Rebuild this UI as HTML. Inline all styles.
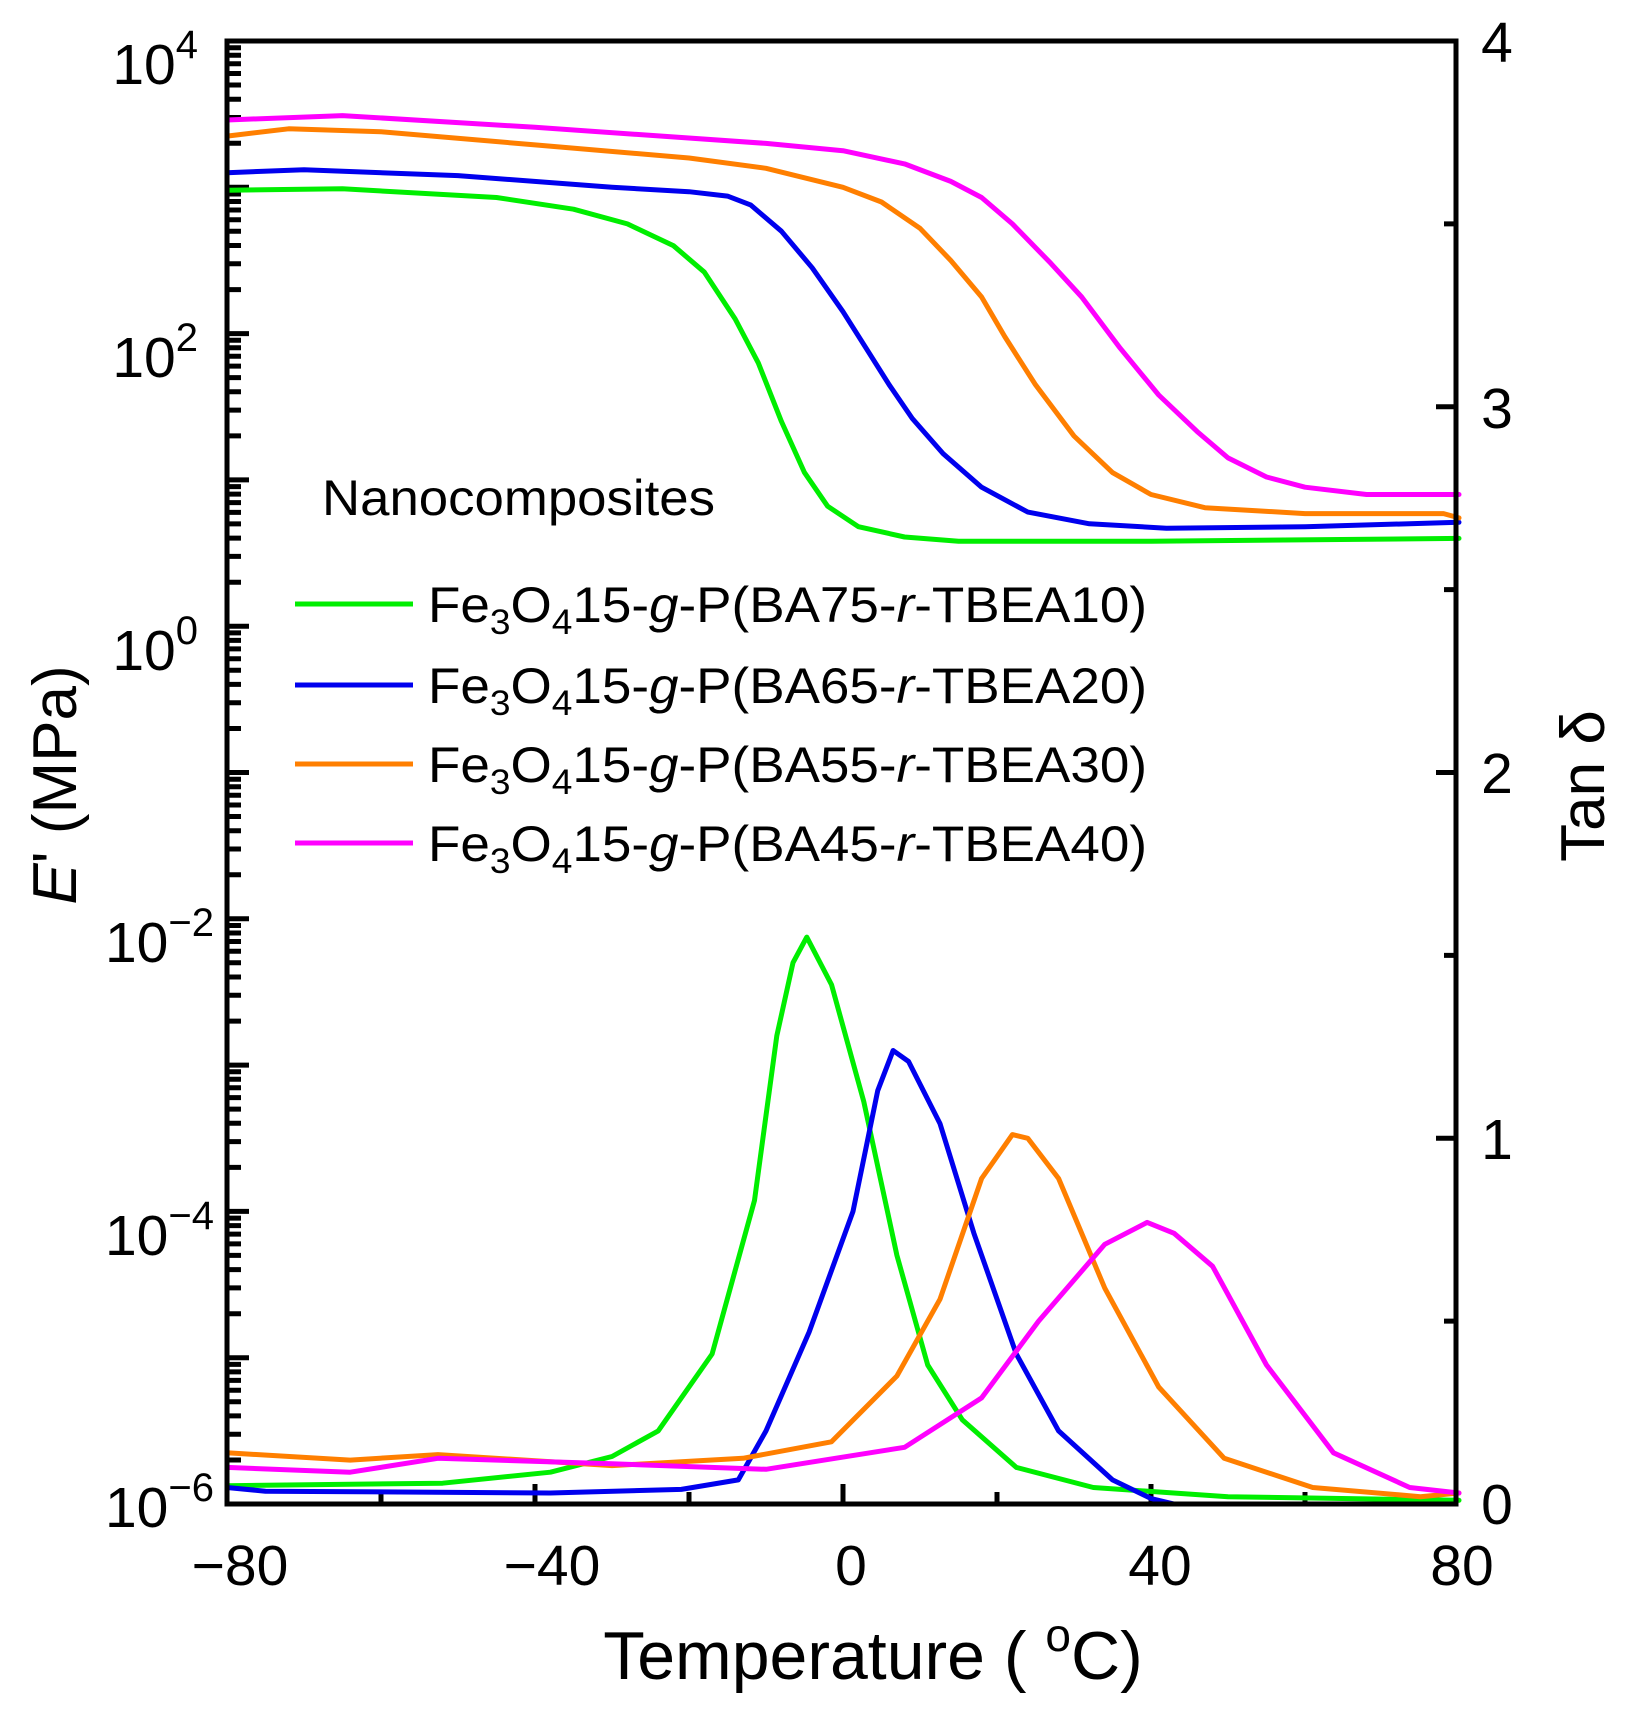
<!DOCTYPE html>
<html><head><meta charset="utf-8"><style>
body{margin:0;background:#fff}
svg{display:block}
text{font-family:"Liberation Sans",sans-serif;fill:#000}
</style></head><body>
<svg width="1626" height="1712" viewBox="0 0 1626 1712" xmlns="http://www.w3.org/2000/svg">
<defs>
<path id="dec" d="M227 0h22M227 -44h14M227 -69.8h14M227 -88.1h14M227 -102.3h14M227 -113.8h14M227 -123.6h14M227 -132.1h14M227 -139.6h14"/>
</defs>
<g stroke="#000" stroke-width="5" fill="none">
<use href="#dec" transform="translate(0,1504)"/>
<use href="#dec" transform="translate(0,1357.7)"/>
<use href="#dec" transform="translate(0,1211.4)"/>
<use href="#dec" transform="translate(0,1065.1)"/>
<use href="#dec" transform="translate(0,918.8)"/>
<use href="#dec" transform="translate(0,772.5)"/>
<use href="#dec" transform="translate(0,626.2)"/>
<use href="#dec" transform="translate(0,479.9)"/>
<use href="#dec" transform="translate(0,333.6)"/>
<use href="#dec" transform="translate(0,187.3)"/>
<path d="M227 41h22"/>
<path d="M1456 41h-20M1456 223.9h-12M1456 406.8h-20M1456 589.6h-12M1456 772.5h-20M1456 955.4h-12M1456 1138.3h-20M1456 1321.1h-12"/>
<path d="M381 1504v-12M535 1504v-20M689 1504v-12M843 1504v-20M997 1504v-12M1151 1504v-20M1305 1504v-12"/>
</g>
<g fill="none" stroke-width="5" stroke-linejoin="round" stroke-linecap="round">
<path stroke="#00ee00" d="M227 190.2L342.5 188.8L496.5 197.5L573.5 209.2L627.4 223.9L673.6 245.8L704.4 272.2L735.2 319L758.3 362.9L781.4 421.4L804.5 472.6L827.6 506.2L858.4 526.7L904.6 537L958.5 541.3L1151 541.3L1459 538.4"/>
<path stroke="#0000ee" d="M227 172.7L304 169.8L458 175.6L612 187.3L689 191.7L727.5 196.1L750.6 204.9L781.4 231.2L812.2 267.8L843 311.7L866.1 348.2L889.2 384.8L912.3 418.5L943.1 453.6L981.6 487.2L1027.8 512.1L1089.4 523.8L1166.4 528.2L1305 526.7L1459 522.3"/>
<path stroke="#ff7f00" d="M227 136.1L288.6 128.8L381 131.7L535 144.9L689 158L766 168.3L843 187.3L881.5 202L920 228.3L950.8 260.5L981.6 297L1004.7 336.5L1035.5 384.8L1074 436L1112.5 472.6L1151 494.5L1204.9 507.7L1305 513.6L1443.6 513.6L1459 517.9"/>
<path stroke="#ff00ff" d="M227 120L342.5 115.6L535 127.3L766 143.4L843 150.7L904.6 163.9L950.8 181.4L981.6 197.5L1012.4 223.9L1050.9 263.4L1081.7 297L1120.2 348.2L1158.7 395L1197.2 431.6L1228 457.9L1266.5 477L1305 487.2L1366.6 494.5L1459 494.5"/>
<path stroke="#00ee00" d="M227 1485.7L442.6 1483.2L550.4 1472.2L612 1456.5L658.2 1430.9L712.1 1354L754.5 1200.4L776.8 1035.8L793 962.7L806.8 937.1L831.5 984.6L863.8 1101.7L896.9 1255.3L927.7 1365L962.4 1419.9L1016.3 1467.4L1093.3 1487.5L1228 1496.7L1459 1500.3"/>
<path stroke="#0000ee" d="M227 1487.5L265.5 1491.2L550.4 1493L681.3 1489.4L738.3 1479.9L766 1430.9L809.1 1332.1L853 1211.4L877.7 1090.7L893.1 1050.5L908.5 1061.4L940 1123.6L973.9 1233.3L1016.3 1354L1058.6 1430.9L1112.5 1479.9L1151 1498.5L1174.1 1504"/>
<path stroke="#ff7f00" d="M227 1452.8L350.2 1460.1L438 1454.6L612 1465.6L742.9 1458.3L831.5 1441.8L896.9 1376L940 1299.2L981.6 1178.5L1012.4 1134.6L1027.8 1138.3L1058.6 1178.5L1104.8 1288.2L1158.7 1387L1224.2 1458.3L1312.7 1487.5L1420.5 1496.7L1459 1493"/>
<path stroke="#ff00ff" d="M227 1467.4L350.2 1472.2L438 1458.3L612 1463.8L766 1469.3L904.6 1447.3L981.6 1397.9L1038.6 1321.1L1104.8 1244.3L1147.2 1222.4L1174.1 1233.3L1212.6 1266.3L1266.5 1365L1333.5 1452.8L1409.7 1487.5L1459 1493"/>
</g>
<rect x="227" y="41" width="1229" height="1463" fill="none" stroke="#000" stroke-width="5"/>
<g font-size="57" text-anchor="end">
<text x="198" y="84">10<tspan dy="-26" font-size="40">4</tspan></text>
<text x="198" y="377">10<tspan dy="-26" font-size="40">2</tspan></text>
<text x="198" y="670">10<tspan dy="-26" font-size="40">0</tspan></text>
<text x="214" y="962">10<tspan dy="-26" font-size="40">−2</tspan></text>
<text x="214" y="1255">10<tspan dy="-26" font-size="40">−4</tspan></text>
<text x="214" y="1527">10<tspan dy="-26" font-size="40">−6</tspan></text>
</g>
<g font-size="57" text-anchor="middle">
<text x="1497" y="62">4</text>
<text x="1497" y="428">3</text>
<text x="1497" y="793">2</text>
<text x="1497" y="1159">1</text>
<text x="1497" y="1524">0</text>
<text x="240" y="1585">−80</text>
<text x="552" y="1585">−40</text>
<text x="851" y="1585">0</text>
<text x="1160" y="1585">40</text>
<text x="1462" y="1585">80</text>
</g>
<text x="873" y="1679" font-size="68" text-anchor="middle">Temperature ( <tspan dy="-28" font-size="46">o</tspan><tspan dy="28">C)</tspan></text>
<text transform="translate(76,785) rotate(-90)" font-size="62" text-anchor="middle"><tspan font-style="italic">E</tspan>' (MPa)</text>
<text transform="translate(1604,786) rotate(-90)" font-size="62" text-anchor="middle">Tan δ</text>
<text x="322" y="515" font-size="50" textLength="393" lengthAdjust="spacingAndGlyphs">Nanocomposites</text>
<g stroke-width="5">
<line x1="295" y1="604" x2="413" y2="604" stroke="#00ee00"/>
<line x1="295" y1="685" x2="413" y2="685" stroke="#0000ee"/>
<line x1="295" y1="764" x2="413" y2="764" stroke="#ff7f00"/>
<line x1="295" y1="843" x2="413" y2="843" stroke="#ff00ff"/>
</g>
<g font-size="50">
<text x="428" y="622" textLength="719" lengthAdjust="spacingAndGlyphs">Fe<tspan dy="12" font-size="35">3</tspan><tspan dy="-12">O</tspan><tspan dy="12" font-size="35">4</tspan><tspan dy="-12">15-</tspan><tspan font-style="italic">g</tspan>-P(BA75-<tspan font-style="italic">r</tspan>-TBEA10)</text>
<text x="428" y="703" textLength="719" lengthAdjust="spacingAndGlyphs">Fe<tspan dy="12" font-size="35">3</tspan><tspan dy="-12">O</tspan><tspan dy="12" font-size="35">4</tspan><tspan dy="-12">15-</tspan><tspan font-style="italic">g</tspan>-P(BA65-<tspan font-style="italic">r</tspan>-TBEA20)</text>
<text x="428" y="782" textLength="719" lengthAdjust="spacingAndGlyphs">Fe<tspan dy="12" font-size="35">3</tspan><tspan dy="-12">O</tspan><tspan dy="12" font-size="35">4</tspan><tspan dy="-12">15-</tspan><tspan font-style="italic">g</tspan>-P(BA55-<tspan font-style="italic">r</tspan>-TBEA30)</text>
<text x="428" y="861" textLength="719" lengthAdjust="spacingAndGlyphs">Fe<tspan dy="12" font-size="35">3</tspan><tspan dy="-12">O</tspan><tspan dy="12" font-size="35">4</tspan><tspan dy="-12">15-</tspan><tspan font-style="italic">g</tspan>-P(BA45-<tspan font-style="italic">r</tspan>-TBEA40)</text>
</g>
</svg>
</body></html>
